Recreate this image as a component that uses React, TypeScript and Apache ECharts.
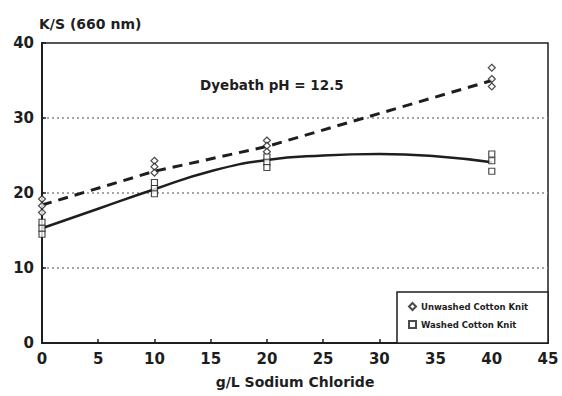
import React, { useEffect, useRef } from "react";
import * as echarts from "echarts";

const xTicks = [0, 5, 10, 15, 20, 25, 30, 35, 40, 45];
const yTicks = [0, 10, 20, 30, 40];

// Measured K/S replicates per NaCl level (g/L)
const unwashedPoints: [number, number][] = [
  [0, 19.2], [0, 18.3], [0, 17.4],
  [10, 24.3], [10, 23.5], [10, 22.7],
  [20, 27.0], [20, 26.3], [20, 25.5],
  [40, 36.7], [40, 35.2], [40, 34.2],
];
const washedPoints: [number, number][] = [
  [0, 16.1], [0, 15.3], [0, 14.5],
  [10, 21.4], [10, 20.6], [10, 19.9],
  [20, 24.8], [20, 24.1], [20, 23.4],
  [40, 25.2], [40, 24.3], [40, 22.9],
];
// Curves drawn through the data
const unwashedCurve: [number, number][] = [
  [0, 18.4], [10, 22.9], [20, 26.2], [40, 35.0],
];
const washedCurve: [number, number][] = [
  [0, 15.3], [5, 17.9], [10, 20.5], [15, 22.9], [20, 24.4],
  [25, 25.0], [30, 25.2], [35, 24.9], [40, 24.1],
];

const seriesNames = ["Unwashed Cotton Knit", "Washed Cotton Knit"];
const annotation = "Dyebath pH = 12.5";
const xTitle = "g/L Sodium Chloride";
const yTitle = "K/S (660 nm)";

const FONT = "'DejaVu Sans', 'Liberation Sans', sans-serif";
const INK = "#1e1e1e";

export default function App() {
  const ref = useRef<HTMLDivElement>(null);
  useEffect(() => {
    if (!ref.current) return;
    const chart = echarts.init(ref.current, undefined, { renderer: "svg" });
    chart.setOption({
      animation: false,
      backgroundColor: "#fff",
      textStyle: { fontFamily: FONT },
      grid: {
        left: 42,
        right: 14,
        top: 43,
        bottom: 53,
        show: true,
        borderColor: INK,
        borderWidth: 1.5,
        backgroundColor: "transparent",
      },
      xAxis: {
        type: "value",
        min: xTicks[0],
        max: xTicks[xTicks.length - 1],
        interval: 5,
        name: xTitle,
        nameLocation: "middle",
        nameGap: 32,
        nameTextStyle: { fontSize: 14, fontWeight: "bold", color: INK, fontFamily: FONT },
        axisLine: { show: true, lineStyle: { color: INK, width: 2 } },
        axisTick: { show: true, inside: true, length: 4, lineStyle: { color: INK, width: 1.5 } },
        axisLabel: { fontSize: 15, fontWeight: "bold", color: INK, margin: 8, fontFamily: FONT },
        splitLine: { show: false },
      },
      yAxis: {
        type: "value",
        min: yTicks[0],
        max: yTicks[yTicks.length - 1],
        interval: 10,
        name: yTitle,
        nameLocation: "end",
        nameGap: 12,
        nameTextStyle: {
          fontSize: 14,
          fontWeight: "bold",
          color: INK,
          align: "left",
          fontFamily: FONT,
          padding: [0, 0, 0, -3],
        },
        axisLine: { show: true, lineStyle: { color: INK, width: 2 } },
        axisTick: { show: true, inside: true, length: 4, lineStyle: { color: INK, width: 1.5 } },
        axisLabel: { fontSize: 15, fontWeight: "bold", color: INK, margin: 8, fontFamily: FONT },
        splitLine: {
          show: true,
          showMinLine: false,
          showMaxLine: false,
          lineStyle: { color: "#888", width: 1.5, type: [2, 3] },
        },
      },
      legend: {
        data: seriesNames,
        orient: "vertical",
        left: 408,
        top: 302,
        itemWidth: 7,
        itemHeight: 7,
        itemGap: 9,
        padding: 0,
        z: 10,
        textStyle: { fontSize: 8.5, fontWeight: "bold", color: INK, fontFamily: FONT },
      },
      graphic: [
        {
          type: "rect",
          shape: { x: 397, y: 292, width: 151, height: 51 },
          style: { fill: "#fff", stroke: INK, lineWidth: 1.5 },
          z: 1,
        },
        {
          type: "text",
          x: 200,
          y: 85,
          style: {
            text: annotation,
            font: `bold 13.5px ${FONT}`,
            fill: INK,
            verticalAlign: "middle",
          },
        },
      ],
      series: [
        {
          name: seriesNames[0],
          type: "scatter",
          data: unwashedPoints,
          symbol: "diamond",
          symbolSize: 7,
          itemStyle: { color: "#fff", borderColor: INK, borderWidth: 1.2 },
          z: 4,
        },
        {
          name: seriesNames[1],
          type: "scatter",
          data: washedPoints,
          symbol: "rect",
          symbolSize: 6,
          itemStyle: { color: "#fff", borderColor: INK, borderWidth: 1.2 },
          z: 4,
        },
        {
          name: "unwashed-fit",
          type: "line",
          data: unwashedCurve,
          showSymbol: false,
          symbol: "none",
          lineStyle: { color: INK, width: 3, type: [10, 7] },
          z: 3,
        },
        {
          name: "washed-fit",
          type: "line",
          data: washedCurve,
          smooth: true,
          showSymbol: false,
          symbol: "none",
          lineStyle: { color: INK, width: 2.5 },
          z: 3,
        },
      ],
    });
    return () => chart.dispose();
  }, []);
  return <div ref={ref} style={{ width: 562, height: 396, position: "absolute", left: 0, top: 0 }} />;
}
